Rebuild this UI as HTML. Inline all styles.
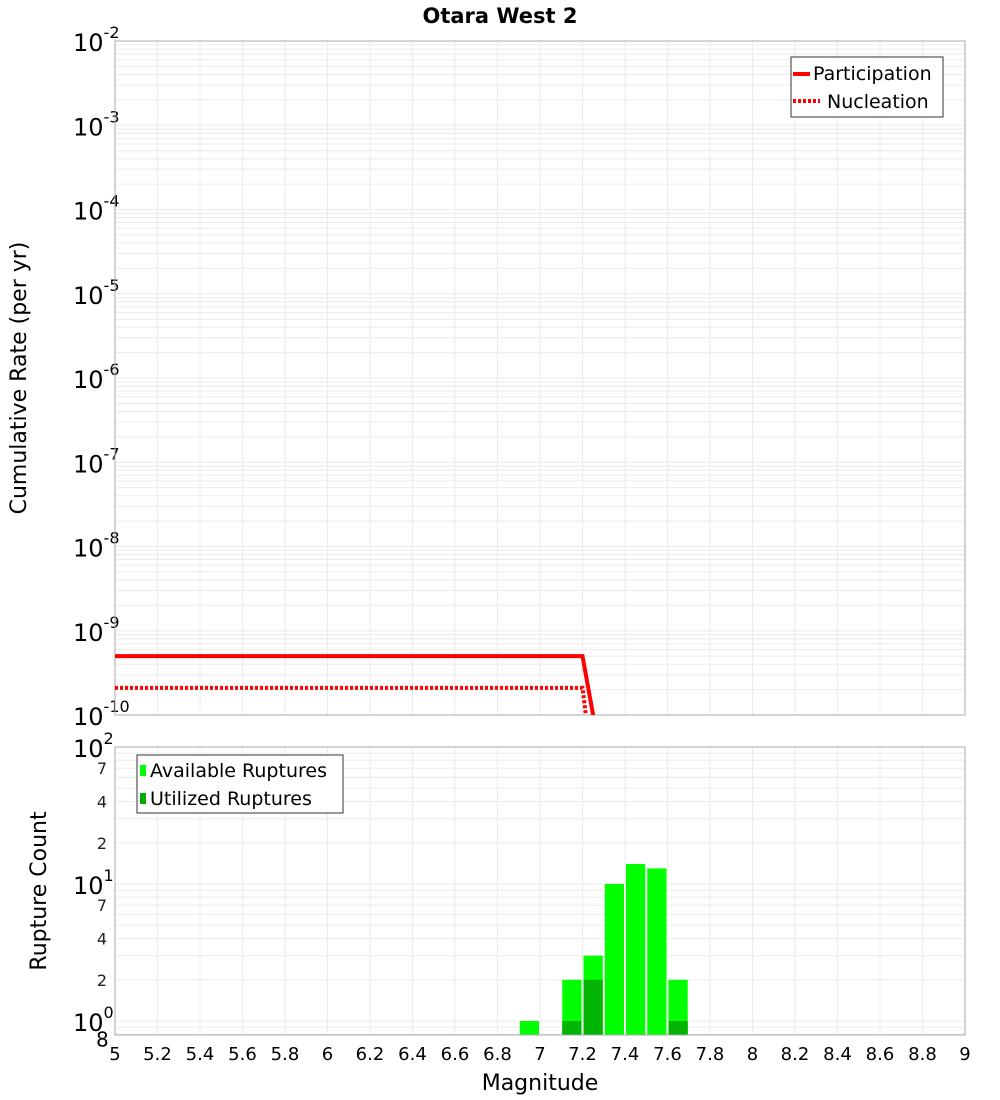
<!DOCTYPE html>
<html><head><meta charset="utf-8"><style>
body{margin:0;background:#fff;}
svg{display:block;font-family:"DejaVu Sans","Liberation Sans",sans-serif;}
</style></head><body>
<svg id="c" width="1000" height="1100" viewBox="0 0 1000 1100">
<text x="500" y="23" text-anchor="middle" font-size="21" font-weight="bold">Otara West 2</text>
<text transform="translate(26,378) rotate(-90)" text-anchor="middle" font-size="22">Cumulative Rate (per yr)</text>
<text transform="translate(46,891) rotate(-90)" text-anchor="middle" font-size="22">Rupture Count</text>
<text x="540" y="1090" text-anchor="middle" font-size="22">Magnitude</text>
<g id="topg"></g><g id="botg"></g><g id="xtg"></g>
<g>
<rect x="791" y="57" width="152" height="60" fill="#fff" stroke="#333"/>
<line x1="793" y1="74" x2="810" y2="74" stroke="red" stroke-width="4"/>
<text x="813" y="80" font-size="19">Participation</text>
<line x1="793" y1="101" x2="820" y2="101" stroke="red" stroke-width="4" stroke-dasharray="3,2"/>
<text x="827" y="108" font-size="19">Nucleation</text>
</g>
<g id="bleg">
<rect x="137" y="755" width="206" height="58" fill="#fff" stroke="#333"/>
<rect x="140" y="765" width="6" height="11" fill="#00ff00"/>
<text x="150" y="777" font-size="19">Available Ruptures</text>
<rect x="140" y="793" width="6" height="11" fill="#00aa00"/>
<text x="150" y="805" font-size="19">Utilized Ruptures</text>
</g>
</svg>
<script>
const xTicks=[5,5.2,5.4,5.6,5.8,6,6.2,6.4,6.6,6.8,7,7.2,7.4,7.6,7.8,8,8.2,8.4,8.6,8.8,9];
const partMag=[5,7.2,7.3];
const partRate=[5e-10,5e-10,2e-11];
const nuclMag=[5,7.2,7.25];
const nuclRate=[2.1e-10,2.1e-10,2e-11];
const binMag=[6.95,7.15,7.25,7.35,7.45,7.55,7.65];
const availCount=[1,2,3,10,14,13,2];
const utilCount=[0,1,2,0,0,0,1];
const NS='http://www.w3.org/2000/svg';
const X0=115,X1=965;
const xs=m=>X0+(m-5)/4*(X1-X0);
const TY0=41,TY1=715;
const ty=v=>TY0+(-2-Math.log10(v))/8*(TY1-TY0);
const BY0=747,BY1=1035,BD=137;
const by=v=>BY0+(2-Math.log10(v))*BD;
function mk(p,t,a){const e=document.createElementNS(NS,t);for(const k in a)e.setAttribute(k,a[k]);p.appendChild(e);return e;}
const topG=document.getElementById('topg'),botG=document.getElementById('botg'),xtG=document.getElementById('xtg');
const svgEl=document.getElementById('c');
const defs=mk(svgEl,'defs',{});
const cp=mk(defs,'clipPath',{id:'tc'});mk(cp,'rect',{x:X0,y:TY0,width:X1-X0,height:TY1-TY0});
for(let d=-10;d<-2;d++)for(let k=1;k<10;k++){const y=ty(k*Math.pow(10,d));
const g=mk(topG,'line',{x1:X0,x2:X1,y1:y,y2:y,stroke:'#ebebeb','stroke-width':1});

}
for(const m of xTicks){const x=xs(m);
const g=mk(topG,'line',{x1:x,x2:x,y1:TY0,y2:TY1,stroke:'#ebebeb'});


const g2=mk(botG,'line',{x1:x,x2:x,y1:BY0,y2:BY1,stroke:'#ebebeb'});


const t=mk(xtG,'text',{x:x,y:1060,'text-anchor':'middle','font-size':'18'});t.textContent=String(m);

}
for(let d=-10;d<=-2;d++){const y=ty(Math.pow(10,d));
const t=mk(topG,'text',{x:73,y:y+10,'font-size':'24'});


t.textContent='10';const s=mk(t,'tspan',{dy:-13,'font-size':'16'});s.textContent=String(d);}
mk(topG,'rect',{x:X0,y:TY0,width:X1-X0,height:TY1-TY0,fill:'none',stroke:'#aaa'});
function line(ms,rs,dash,name){const pts=ms.map((m,i)=>xs(m)+','+ty(rs[i])).join(' ');
const p=mk(topG,'polyline',{points:pts,fill:'none',stroke:'red','stroke-width':4,'clip-path':'url(#tc)'});
if(dash)p.setAttribute('stroke-dasharray','3,2');

}
line(partMag,partRate,false,'participation-line');
line(nuclMag,nuclRate,true,'nucleation-line');
for(let d=-1;d<2;d++)for(let k=1;k<10;k++){const v=k*Math.pow(10,d);const y=by(v);if(y>BY1||y<BY0)continue;
const g=mk(botG,'line',{x1:X0,x2:X1,y1:y,y2:y,stroke:'#ebebeb'});

}
const minor=[[7,70],[4,40],[2,20],[7,7],[4,4],[2,2]];
for(const [lab,v] of minor){const t=mk(botG,'text',{x:107,y:by(v)+6,'text-anchor':'end','font-size':'16',fill:'#222'});t.textContent=String(lab);

}
for(const d of [0,1,2]){const t=mk(botG,'text',{x:73,y:by(Math.pow(10,d))+10,'font-size':'24'});t.textContent='10';
const s=mk(t,'tspan',{dy:-13,'font-size':'16'});s.textContent=String(d);

}
{const t=mk(botG,'text',{x:96,y:by(0.8)+12,'font-size':'20'});t.textContent='8';

}
for(let i=0;i<binMag.length;i++){const xl=xs(binMag[i]-0.05)+1,w=xs(binMag[i]+0.05)-xs(binMag[i]-0.05)-2;
if(availCount[i]>0){const y=by(availCount[i]);const r=mk(botG,'rect',{x:xl,y:y,width:w,height:BY1-y,fill:'#00ff00'});

}
if(utilCount[i]>0){const y=by(utilCount[i]);const r=mk(botG,'rect',{x:xl,y:y,width:w,height:BY1-y,fill:'#00b400'});

}}
mk(botG,'rect',{x:X0,y:BY0,width:X1-X0,height:BY1-BY0,fill:'none',stroke:'#aaa'});
</script>
</body></html>
